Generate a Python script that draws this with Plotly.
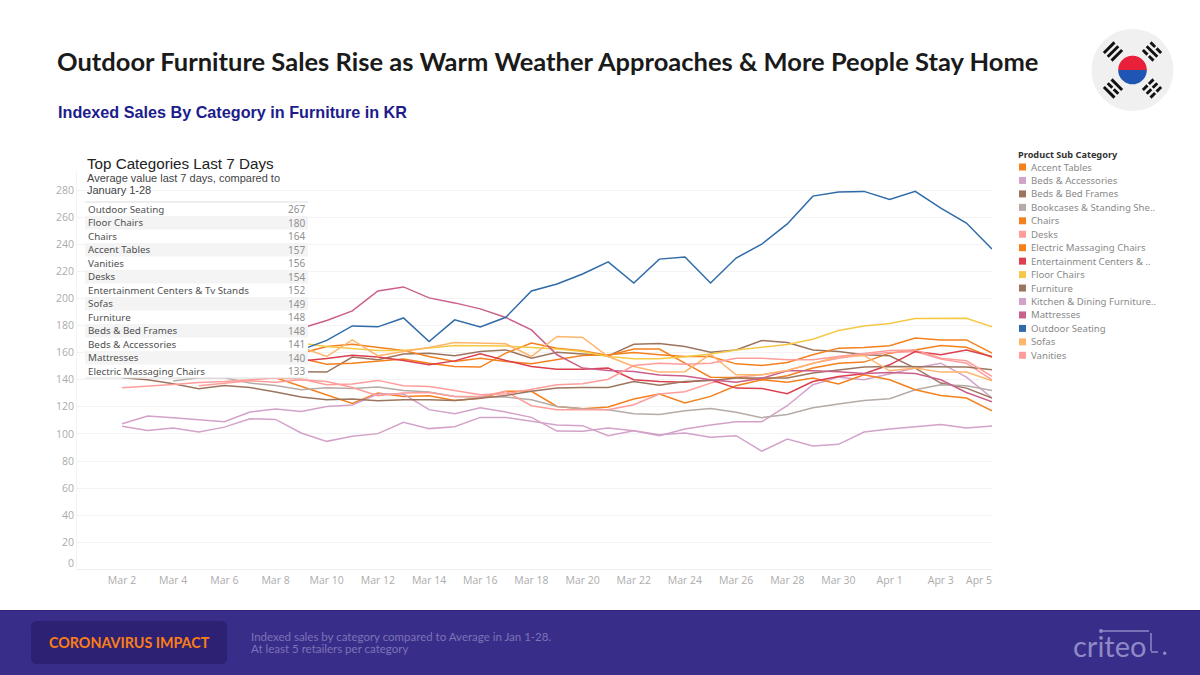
import math

import pandas as pd
import plotly.graph_objects as go

dates = pd.date_range("2020-03-02", "2020-04-05")
N = None

accent_tables = [N, N, N, N, N, N, 141.4, 135, 129, 122.5, 130.1, 127.7, 128.2, 124.7, 126.4, 131.4, 131.4, 120.3, 118.6, 119.8, 125.7, 129.4, 122.8, 127.7, 135.5, 140, 142.9, 148.6, 152.2, 153, 159.6, 162, 165.3, 164, 156.6]
beds_accessories = [107.5, 113.2, 112, 110.5, 109, 116.2, 118.4, 116.6, 120.3, 121.3, 129.4, 129.4, 117.9, 114.9, 119.3, 116.1, 112.2, 102.1, 101.9, 104.3, 102.4, 98.7, 103.6, 106.6, 109, 109, 120.8, 136.3, 141.9, 140, 144.4, 148.6, 152.2, 141.9, 126.5]
beds_frames = [N, N, N, N, N, N, N, 145.9, 145.6, 156.7, 154.7, 158.9, 159.6, 157.6, 160.8, 162, 155.9, 160.3, 159.1, 157.6, 166.2, 166.7, 164.5, 160.3, 162, 168.9, 167.5, 162, 160.8, 158.4, 157.6, 148.6, 137.5, 133.8, 126.4]
bookcases = [N, N, 139, 141.4, 141.4, 137.5, 135.8, 132.6, 134, 133.6, 134.6, 132.1, 130.9, 127.7, 127.2, 127.2, 125.2, 120.3, 118.6, 117.9, 114.9, 114.4, 117.1, 118.8, 115.9, 112, 114.4, 119.3, 122, 124.7, 126, 132.6, 136.3, 135.5, 132.1]
chairs = [N, N, N, N, N, N, N, 159.6, 164.5, 166.2, 164, 161.6, 157.1, 153.5, 155.9, 153.5, 151.7, 154.7, 157.9, 158.4, 160.1, 158.4, 157.1, 157.1, 151.7, 150.5, 152.7, 158.4, 163.3, 163.8, 165, 170.7, 169.4, 169.4, 159.6]
desks = [N, N, N, 135.5, 137.5, 139.2, 138.2, 140, 138.7, 134.3, 128.2, 130.1, 130.6, 127.7, 127.7, 131.4, 120.8, 117.9, 117.9, 117.9, 121.5, 129.4, 131.1, 137.5, 141.9, 143.6, 146.8, 152.2, 155.9, 158.4, 160.1, 160.8, 155.2, 152.2, 139.9]
electric_massaging = [N, N, N, N, N, N, N, 155.7, 151.5, 152.2, 153.5, 155.2, 152.2, 149.8, 149.3, 159.6, 167, 163.3, 161.3, 157.9, 162.6, 162.6, 152.2, 141.9, 141.7, 140, 138.2, 141.2, 136.8, 143.6, 140, 132.6, 128.4, 126.5, 117.1]
entertainment = [N, N, N, N, N, N, N, 153.9, 155.7, 158.1, 156.7, 154.2, 151, 153.9, 159.1, 154.2, 149.8, 147.8, 147.8, 148.6, 140, 138.7, 138.2, 140, 133.8, 133.6, 129.6, 138.7, 142.4, 144.4, 151, 160.8, 158.4, 162, 157.1]
floor_chairs = [N, N, N, N, N, N, N, 167, 164.5, 163, 161.6, 161.6, 163.3, 165.3, 165, 164.8, 163.8, 162.6, 160.8, 157.1, 155.4, 155.4, 156.9, 158.9, 162, 164, 166, 169.9, 176.3, 179.7, 181.5, 185.1, 185.4, 185.4, 179]
furniture = [141.5, 140, 137, 133.3, 135.8, 134.3, 130.9, 127.2, 125.2, 125.7, 124.5, 125.2, 125.2, 124.7, 126.4, 128.4, 131.4, 133.8, 134.3, 134.3, 138.7, 136, 138.7, 139.5, 141.2, 141.2, 141.2, 144.9, 147.3, 149.3, 149.8, 149.8, 149.8, 149.3, 147.3]
kitchen_dining = [105.6, 102.6, 104.4, 101.4, 105, 111.2, 110.7, 100.7, 94.5, 98.2, 100.2, 108.5, 103.9, 105.3, 112.2, 112.2, 109.3, 106.6, 106.1, 98.7, 102.4, 99.4, 100.7, 97.5, 98.7, 87.2, 96.2, 91.1, 92.3, 101.4, 103.6, 105.3, 107, 104.3, 105.8]
mattresses = [N, N, N, N, N, N, N, 178, 183.7, 190.8, 205.5, 208.5, 200.4, 196.7, 192.3, 185.9, 176.8, 158.4, 148.6, 146.8, 146, 143.4, 142.7, 140, 138.2, 141, 146.6, 146.6, 145.9, 144.6, 145.4, 144.6, 140, 130.6, 123.7]
outdoor_seating = [N, N, N, N, N, N, N, 162, 169, 179.7, 179, 185.6, 168.2, 184.2, 179, 186.1, 205.5, 210.7, 218, 227, 211.4, 229, 230.6, 211.4, 229.8, 240, 255, 275.5, 278.5, 279, 273, 279, 266.7, 255.6, 236.5]
sofas = [N, N, N, N, N, N, N, 164, 157.1, 169.4, 157.6, 160.8, 163.8, 167.5, 167, 166.5, 157.1, 171.9, 171.2, 157.1, 149.8, 145.6, 145.9, 158.9, 143.6, 143.6, 146.8, 152.2, 157.1, 157.9, 146.6, 148.6, 145.6, 145.6, 139.2]
vanities = [134, 135, 136.5, 138, 138.7, 140, 141.2, 140.5, 136.3, 136.8, 139.5, 135.5, 135, 132.1, 128.9, 129.6, 133.1, 136.3, 137, 140.4, 150.5, 152.2, 151.5, 152.2, 155.9, 155.9, 154.7, 154.7, 157.1, 159.6, 161.6, 162, 155.9, 154, 142.4]

series = [
    ("Accent Tables", "Accent Tables", accent_tables, "#f5801e"),
    ("Beds & Accessories", "Beds & Accessories", beds_accessories, "#d3a2c9"),
    ("Beds & Bed Frames", "Beds & Bed Frames", beds_frames, "#9c755f"),
    ("Bookcases & Standing Shelves", "Bookcases & Standing She..", bookcases, "#b5aba7"),
    ("Chairs", "Chairs", chairs, "#f5801e"),
    ("Desks", "Desks", desks, "#ff9d9a"),
    ("Electric Massaging Chairs", "Electric Massaging Chairs", electric_massaging, "#f5801e"),
    ("Entertainment Centers & Tv Stands", "Entertainment Centers & ..", entertainment, "#dc3f4d"),
    ("Floor Chairs", "Floor Chairs", floor_chairs, "#f5c945"),
    ("Furniture", "Furniture", furniture, "#9c755f"),
    ("Kitchen & Dining Furniture", "Kitchen & Dining Furniture..", kitchen_dining, "#d3a2c9"),
    ("Mattresses", "Mattresses", mattresses, "#cb5f8c"),
    ("Outdoor Seating", "Outdoor Seating", outdoor_seating, "#2f6ba8"),
    ("Sofas", "Sofas", sofas, "#ffb56b"),
    ("Vanities", "Vanities", vanities, "#ff9d9a"),
]

table_names = ["Outdoor Seating", "Floor Chairs", "Chairs", "Accent Tables", "Vanities", "Desks",
               "Entertainment Centers & Tv Stands", "Sofas", "Furniture", "Beds & Bed Frames",
               "Beds & Accessories", "Mattresses", "Electric Massaging Chairs"]
table_values = [267, 180, 164, 157, 156, 154, 152, 149, 148, 148, 141, 140, 133]

x_tick_days = dates[::2]
x_tick_text = ["Mar 2", "Mar 4", "Mar 6", "Mar 8", "Mar 10", "Mar 12", "Mar 14", "Mar 16", "Mar 18",
               "Mar 20", "Mar 22", "Mar 24", "Mar 26", "Mar 28", "Mar 30", "Apr 1", "Apr 3", ""]
y_ticks = list(range(0, 281, 20))
y_tick_text = [""] + [str(v) for v in y_ticks[1:]]

GREY = "#acacac"
W, H = 1200, 675


def px(x):
    return x / W


def py(y):
    return 1 - y / H


def rect(x0, y0, x1, y1, color):
    return dict(type="rect", xref="paper", yref="paper", x0=px(x0), x1=px(x1), y0=py(y0), y1=py(y1),
                fillcolor=color, line_width=0, layer="above")


def line(x0, y0, x1, y1, color, width=1):
    return dict(type="line", xref="paper", yref="paper", x0=px(x0), x1=px(x1), y0=py(y0), y1=py(y1),
                line=dict(color=color, width=width), layer="above")


def path(points, color):
    d = "M " + " L ".join(f"{px(a):.5f},{py(b):.5f}" for a, b in points) + " Z"
    return dict(type="path", xref="paper", yref="paper", path=d, fillcolor=color, line_width=0, layer="above")


def label(x, y, text, size, color, family="Noto Sans", anchor="left"):
    return dict(xref="paper", yref="paper", x=px(x), y=py(y), text=text, showarrow=False, xanchor=anchor,
                yanchor="middle", font=dict(size=size, color=color, family=family), borderpad=0, borderwidth=0)


def half_disc(cx, cy, r, color, upper):
    pts = []
    for i in range(41):
        a = math.pi * i / 40
        s = -1 if upper else 1
        pts.append((cx + r * math.cos(a), cy + s * r * math.sin(a)))
    return path(pts, color)


def trigram(cx, cy, toward, pattern):
    # bars sit across the diagonal; toward is the (+-1, +-1) direction from the flag centre
    dx, dy = toward[0] * 0.7071, toward[1] * 0.7071
    tx, ty = -dy, dx
    out = []
    for i, broken in enumerate(pattern):
        off = (i - 1) * 5.4
        spans = [(-7.5, -1), (1, 7.5)] if broken else [(-7.5, 7.5)]
        for a, b in spans:
            c = []
            for s, w in [(a, -1.45), (b, -1.45), (b, 1.45), (a, 1.45)]:
                c.append((cx + dx * (off + w) + tx * s, cy + dy * (off + w) + ty * s))
            out.append(path(c, "#111111"))
    return out


fig = go.Figure()
for name, _, values, color in series:
    fig.add_trace(go.Scatter(x=dates, y=values, name=name, mode="lines",
                             line=dict(color=color, width=1.5), connectgaps=False))

shapes = []
annotations = []

# table hides the lines behind it
shapes.append(rect(85, 202, 308, 378, "white"))
shapes.append(line(85, 202, 308, 202, "#dddddd", 1))
shapes.append(line(85, 378, 308, 378, "#dddddd", 1))
row_h = 13.5
for i, (n, v) in enumerate(zip(table_names, table_values)):
    yc = 209.3 + i * row_h
    if i % 2 == 1:
        shapes.append(rect(85, yc - row_h / 2, 308, yc + row_h / 2, "#f4f4f4"))
    annotations.append(label(88, yc, n, 9.8, "#505050"))
    annotations.append(label(305, yc, str(v), 10, "#909090", anchor="right"))

annotations.append(label(87, 163, "Top Categories Last 7 Days", 15.2, "#222222", "Liberation Sans"))
annotations.append(label(87, 178, "Average value last 7 days, compared to", 11, "#444444", "Liberation Sans"))
annotations.append(label(87, 190, "January 1-28", 11, "#444444", "Liberation Sans"))

# axis labels Tableau nudges to stay inside the pane
annotations.append(label(74, 563, "0", 10.5, GREY, "Open Sans", "right"))
annotations.append(label(992, 580, "Apr 5", 10.5, GREY, "Open Sans", "right"))

# headers
annotations.append(label(57, 61, "<b>Outdoor Furniture Sales Rise as Warm Weather Approaches &amp; More People Stay Home</b>",
                         25.5, "#1a1a1a", "Lato"))
annotations.append(label(58, 112, "<b>Indexed Sales By Category in Furniture in KR</b>", 16.2, "#1c1c8c", "Liberation Sans"))

# legend
annotations.append(label(1018, 154, "<b>Product Sub Category</b>", 9.2, "#333333"))
for i, (_, short, _, color) in enumerate(series):
    yc = 167 + i * 13.45
    shapes.append(rect(1019, yc - 3.5, 1026, yc + 3.5, color))
    annotations.append(label(1031, yc, short, 9.6, "#8a8a8a"))

# footer band
shapes.append(rect(0, 610, 1200, 675, "#392d8a"))
shapes.append(line(0, 610.5, 1200, 610.5, "#2f2478", 1))
shapes.append(dict(type="path", xref="paper", yref="paper", fillcolor="#2c2173", line_width=0, layer="above",
                   path=f"M {px(37)},{py(621)} L {px(221)},{py(621)} Q {px(227)},{py(621)} {px(227)},{py(627)} "
                        f"L {px(227)},{py(658)} Q {px(227)},{py(664)} {px(221)},{py(664)} L {px(37)},{py(664)} "
                        f"Q {px(31)},{py(664)} {px(31)},{py(658)} L {px(31)},{py(627)} Q {px(31)},{py(621)} {px(37)},{py(621)} Z"))
annotations.append(label(129, 642, "<b>CORONAVIRUS IMPACT</b>", 14.3, "#fb7d16", "Lato", "center"))
annotations.append(label(251, 636, "Indexed sales by category compared to Average in Jan 1-28.", 11.5, "#7b74b5", "Lato"))
annotations.append(label(251, 648, "At least 5 retailers per category", 11.5, "#7b74b5", "Lato"))
annotations.append(label(1073, 645, "criteo", 29, "#8f89c6", "Lato"))
shapes.append(line(1100, 631, 1149, 631, "#8f89c6", 1.5))
shapes.append(line(1151, 633, 1151, 651, "#8f89c6", 1.5))
shapes.append(line(1151, 652, 1158, 652, "#8f89c6", 1.5))
shapes.append(dict(type="circle", xref="paper", yref="paper", x0=px(1163), x1=px(1166.5), y0=py(655), y1=py(651.5),
                   fillcolor="#8f89c6", line_width=0, layer="above"))
shapes.append(dict(type="circle", xref="paper", yref="paper", x0=px(1099), x1=px(1103), y0=py(633), y1=py(629),
                   fillcolor="#8f89c6", line_width=0, layer="above"))

# flag
fcx, fcy = 1132.5, 70
shapes.append(dict(type="circle", xref="paper", yref="paper", x0=px(fcx - 41), x1=px(fcx + 41),
                   y0=py(fcy + 41), y1=py(fcy - 41), fillcolor="#f0f0f0", line_width=0, layer="above"))
shapes.append(half_disc(fcx, fcy, 14.3, "#e8203a", True))
shapes.append(half_disc(fcx, fcy, 14.3, "#1f56b3", False))
shapes += trigram(fcx - 19.5, fcy - 18.5, (-1, -1), [0, 0, 0])
shapes += trigram(fcx + 19.5, fcy - 18.5, (1, -1), [1, 0, 1])
shapes += trigram(fcx - 19.5, fcy + 18.5, (-1, 1), [0, 1, 0])
shapes += trigram(fcx + 19.5, fcy + 18.5, (1, 1), [1, 1, 1])

fig.update_layout(
    width=W, height=H, autosize=False, showlegend=False,
    margin=dict(l=0, r=0, t=0, b=0),
    paper_bgcolor="white", plot_bgcolor="white",
    shapes=shapes, annotations=annotations,
    font=dict(family="Open Sans", color=GREY, size=10.5),
)
fig.update_xaxes(
    type="date", domain=[px(77), px(992)], range=["2020-02-29 05:46", "2020-04-05"],
    tickvals=x_tick_days, ticktext=x_tick_text, showgrid=False, ticks="outside", ticklen=1, tickcolor="#eeeeee",
    showline=True, linecolor="#efefef", linewidth=1, tickfont=dict(size=10.5, color=GREY), anchor="y",
)
fig.update_yaxes(
    domain=[py(569.4), py(172)], range=[0, 293.3], tickvals=y_ticks, ticktext=y_tick_text,
    showgrid=True, gridcolor="#f3f3f3", gridwidth=1, zeroline=False, showline=True, linecolor="#f3f3f3",
    ticks="", tickfont=dict(size=10.5, color=GREY), anchor="x",
)

# the page's default body margin would push the picture 8px off
fig.write_html("out.html", config=dict(displayModeBar=False),
               post_script="document.body.style.margin='0';document.body.style.overflow='hidden';")
